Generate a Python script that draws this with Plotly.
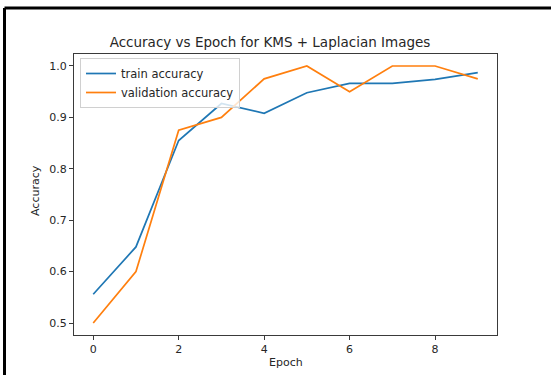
import plotly.graph_objects as go

epochs = list(range(10))
train_acc = [0.556, 0.648, 0.855, 0.927, 0.908, 0.948, 0.966, 0.966, 0.974, 0.987]
val_acc = [0.500, 0.600, 0.875, 0.900, 0.975, 1.000, 0.950, 1.000, 1.000, 0.975]
x_ticks = [0, 2, 4, 6, 8]
y_ticks = [0.5, 0.6, 0.7, 0.8, 0.9, 1.0]
x_label = "Epoch"
y_label = "Accuracy"

W, H = 551, 375
L, R, T, B = 74, 54, 54, 40
pw, ph = W - L - R, H - T - B

font = "DejaVu Sans"
axcol = "#3a3a3a"
txt = "#262626"

fig = go.Figure()
fig.add_trace(go.Scatter(x=epochs, y=train_acc, mode="lines", name="train accuracy",
                         line=dict(color="#1f77b4", width=1.7)))
fig.add_trace(go.Scatter(x=epochs, y=val_acc, mode="lines", name="validation accuracy",
                         line=dict(color="#ff7f0e", width=1.7)))

def px_x(p):
    return (p - L) / pw

def px_y(p):
    return 1 - (p - T) / ph

fig.update_layout(
    width=W, height=H, autosize=False,
    margin=dict(l=L, r=R, t=T, b=B),
    paper_bgcolor="white", plot_bgcolor="white",
    font=dict(family=font, color=txt, size=11),
    title=dict(text="Accuracy vs Epoch for KMS + Laplacian Images",
               x=px_x(270), xref="paper", xanchor="center",
               y=1 - 42 / H, yref="container", yanchor="middle",
               font=dict(size=13.5, family=font, color=txt)),
    xaxis=dict(range=[-0.45, 9.45], tickvals=x_ticks, ticktext=[str(v) for v in x_ticks],
               showgrid=False, zeroline=False, showline=True, mirror=True, automargin=False,
               linecolor=axcol, linewidth=1, ticks="outside", ticklen=4,
               tickcolor=axcol, tickwidth=1, tickfont=dict(size=11, family=font, color=txt)),
    yaxis=dict(range=[0.4767, 1.0233], tickvals=y_ticks, ticktext=[f"{v:.1f}" for v in y_ticks],
               showgrid=False, zeroline=False, showline=True, mirror=True, automargin=False,
               linecolor=axcol, linewidth=1, ticks="outside", ticklen=4,
               tickcolor=axcol, tickwidth=1, tickfont=dict(size=11, family=font, color=txt)),
    legend=dict(x=px_x(80), y=px_y(58), xanchor="left", yanchor="top",
                bgcolor="rgba(255,255,255,0.8)", bordercolor="#d0d0d0", borderwidth=1,
                font=dict(size=11.5, family=font, color=txt), tracegroupgap=0,
                itemwidth=30),
    showlegend=True,
    annotations=[
        dict(text=x_label, xref="paper", yref="paper", x=px_x(285.5), y=px_y(362),
             xanchor="center", yanchor="middle", showarrow=False,
             font=dict(size=11, family=font, color=txt)),
        dict(text=y_label, xref="paper", yref="paper", x=px_x(35), y=px_y(191),
             xanchor="center", yanchor="middle", showarrow=False, textangle=-90,
             font=dict(size=11, family=font, color=txt)),
    ],
    shapes=[
        dict(type="line", xref="paper", yref="paper", x0=px_x(4.5), x1=px_x(560),
             y0=px_y(8), y1=px_y(8), line=dict(color="black", width=3)),
        dict(type="line", xref="paper", yref="paper", x0=px_x(4.5), x1=px_x(4.5),
             y0=px_y(8), y1=px_y(380), line=dict(color="black", width=3)),
    ],
)

fig.write_html("out.html", config={"displayModeBar": False},
               post_script="document.body.style.margin='0';document.body.style.overflow='hidden';")
